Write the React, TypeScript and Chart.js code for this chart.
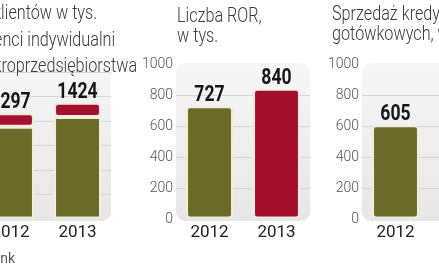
import React, { useEffect, useRef } from 'react';
import { Chart, registerables } from 'chart.js';

Chart.register(...registerables);

// ---------- data ----------
const years = ['2012', '2013'];
const klienciIndywidualni = [1130, 1250];
const mikroprzedsiebiorstwa = [167, 174];
const klienciTotals = [1297, 1424];
const klienciTicks = [0, 300, 600, 900, 1200, 1500, 1800];
const klienciMax = 1900;

const rorValues = [727, 840];
const kredytyValues = [605, 880];
const tysTicks = [0, 200, 400, 600, 800, 1000];
const tysMax = 1000;

const GREEN = '#6b6a26';
const RED = '#a50f2e';

const panelBg = {
  id: 'panelBg',
  beforeDraw(chart: any) {
    const { ctx, chartArea: a } = chart;
    const x = a.left;
    const y = a.top - 1;
    const w = a.right - a.left;
    const h = a.bottom - a.top + 3;
    const r = 11;
    const g = ctx.createLinearGradient(0, y, 0, y + h);
    g.addColorStop(0, '#f7f7f7');
    g.addColorStop(1, '#e6e6e6');
    ctx.save();
    ctx.beginPath();
    ctx.moveTo(x + r, y);
    ctx.lineTo(x + w - r, y);
    ctx.quadraticCurveTo(x + w, y, x + w, y + r);
    ctx.lineTo(x + w, y + h - r);
    ctx.quadraticCurveTo(x + w, y + h, x + w - r, y + h);
    ctx.lineTo(x + r, y + h);
    ctx.quadraticCurveTo(x, y + h, x, y + h - r);
    ctx.lineTo(x, y + r);
    ctx.quadraticCurveTo(x, y, x + r, y);
    ctx.closePath();
    ctx.fillStyle = g;
    ctx.fill();
    ctx.restore();
  },
};

const valueLabels = {
  id: 'valueLabels',
  afterDatasetsDraw(chart: any, _args: any, opts: any) {
    const totals: number[] = opts.totals || [];
    const { ctx } = chart;
    const xs = chart.scales.x;
    const ys = chart.scales.y;
    ctx.save();
    ctx.fillStyle = '#161616';
    ctx.font = 'bold 22px Roboto';
    ctx.textAlign = 'center';
    ctx.textBaseline = 'alphabetic';
    totals.forEach((t, i) => {
      const x = xs.getPixelForValue(i);
      const y = ys.getPixelForValue(t) - 5;
      ctx.save();
      ctx.translate(x, y);
      ctx.scale(0.8, 1);
      ctx.fillText(String(t), 0, 0);
      ctx.restore();
    });
    ctx.restore();
  },
};

function makeOptions(ticks: number[], max: number, stacked: boolean, totals: number[]) {
  return {
    responsive: false,
    animation: false,
    maintainAspectRatio: false,
    layout: { padding: { top: 64, bottom: 19, left: 0, right: 0 } },
    plugins: {
      legend: { display: false },
      tooltip: { enabled: false },
      valueLabels: { totals },
    },
    scales: {
      x: {
        stacked,
        grid: { display: false, drawTicks: false },
        border: { display: false },
        ticks: { color: '#222', font: { family: 'Roboto', size: 17 }, padding: 4 },
        afterFit: (a: any) => {
          a.height = 30;
        },
      },
      y: {
        stacked,
        min: 0,
        max,
        afterBuildTicks: (a: any) => {
          a.ticks = ticks.map((v) => ({ value: v }));
        },
        grid: {
          drawTicks: false,
          color: (c: any) =>
            c.tick && (c.tick.value === 0 || c.tick.value >= max) ? 'rgba(0,0,0,0)' : '#d7d7d7',
        },
        border: { display: false },
        ticks: {
          color: '#555',
          font: { family: 'Roboto', size: 14, weight: 300 },
          padding: 3,
          callback: (v: any) => String(v),
        },
        afterFit: (a: any) => {
          a.width = 36;
        },
      },
    },
  };
}

const barStyle = {
  borderColor: '#f1ecdc',
  borderWidth: 2,
  borderRadius: 4,
  borderSkipped: false,
  categoryPercentage: 1,
  barPercentage: 0.7,
};

function ChartCanvas({ config, left }: { config: any; left: number }) {
  const ref = useRef<HTMLCanvasElement>(null);
  useEffect(() => {
    if (!ref.current) return;
    const chart = new Chart(ref.current, config);
    return () => chart.destroy();
  }, []);
  return (
    <canvas
      ref={ref}
      width={170}
      height={268}
      style={{ position: 'absolute', left, top: 0, width: 170, height: 268, display: 'block' }}
    />
  );
}

const textBase: React.CSSProperties = {
  position: 'absolute',
  fontFamily: 'Roboto',
  fontWeight: 300,
  fontSize: 20,
  lineHeight: '20px',
  color: '#3a3a3a',
  whiteSpace: 'nowrap',
};

export default function App() {
  useEffect(() => {
    document.body.style.margin = '0';
  }, []);

  const klienciConfig = {
    type: 'bar',
    data: {
      labels: years,
      datasets: [
        { label: 'Klienci indywidualni', data: klienciIndywidualni, backgroundColor: GREEN, ...barStyle },
        { label: 'Mikroprzedsiębiorstwa', data: mikroprzedsiebiorstwa, backgroundColor: RED, ...barStyle },
      ],
    },
    options: makeOptions(klienciTicks, klienciMax, true, klienciTotals),
    plugins: [panelBg, valueLabels],
  };

  const rorConfig = {
    type: 'bar',
    data: {
      labels: years,
      datasets: [{ label: 'Liczba ROR', data: rorValues, backgroundColor: [GREEN, RED], ...barStyle }],
    },
    options: makeOptions(tysTicks, tysMax, false, rorValues),
    plugins: [panelBg, valueLabels],
  };

  const kredytyConfig = {
    type: 'bar',
    data: {
      labels: years,
      datasets: [{ label: 'Sprzedaż kredytów gotówkowych', data: kredytyValues, backgroundColor: [GREEN, RED], ...barStyle }],
    },
    options: makeOptions(tysTicks, tysMax, false, kredytyValues),
    plugins: [panelBg, valueLabels],
  };

  const sx = 'scaleX(0.81)';

  return (
    <div style={{ position: 'relative', width: 439, height: 268, overflow: 'hidden', background: '#fff' }}>
      <ChartCanvas config={klienciConfig} left={-59} />
      <ChartCanvas config={rorConfig} left={140} />
      <ChartCanvas config={kredytyConfig} left={326} />

      <div style={{ ...textBase, right: 342, top: 2, transform: sx, transformOrigin: 'right top' }}>
        Liczba klientów w tys.
      </div>
      <div style={{ ...textBase, right: 324, top: 29, transform: sx, transformOrigin: 'right top' }}>
        Klienci indywidualni
      </div>
      <div style={{ ...textBase, right: 302, top: 55, transform: sx, transformOrigin: 'right top' }}>
        Mikroprzedsiębiorstwa
      </div>

      <div style={{ ...textBase, left: 177, top: 5, transform: sx, transformOrigin: 'left top' }}>
        Liczba ROR,
        <br />
        w tys.
      </div>
      <div style={{ ...textBase, left: 332, top: 3, transform: sx, transformOrigin: 'left top' }}>
        Sprzedaż kredytów
        <br />
        gotówkowych, w mln zł
      </div>

      <div
        style={{
          ...textBase,
          right: 424,
          top: 250,
          fontSize: 14,
          lineHeight: '16px',
          color: '#555',
          fontWeight: 400,
        }}
      >
        Źródło: Alior Bank
      </div>
    </div>
  );
}
